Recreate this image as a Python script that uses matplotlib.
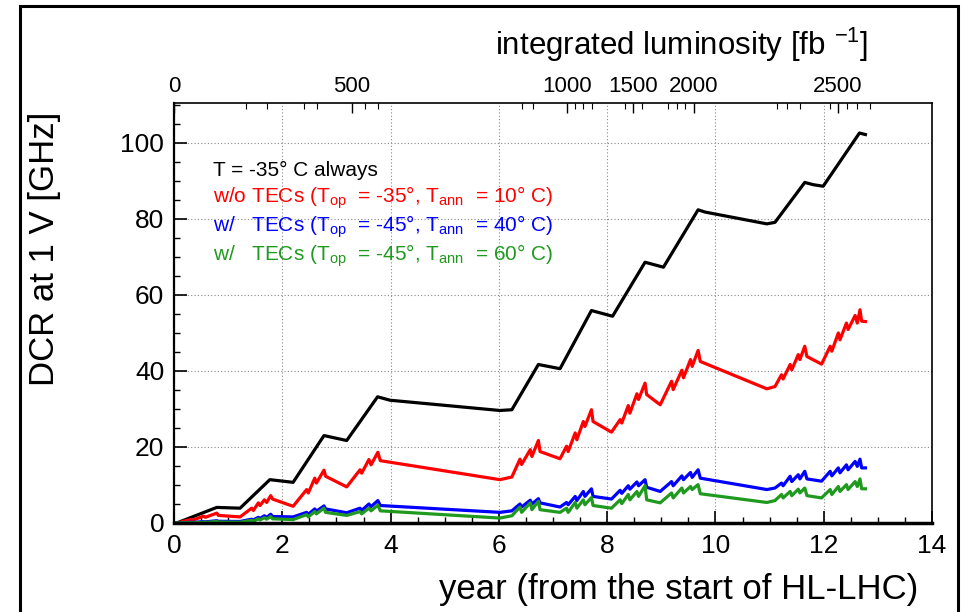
import numpy as np
import matplotlib
matplotlib.use("Agg")
import matplotlib.pyplot as plt
from matplotlib.patches import Rectangle
from matplotlib.ticker import MultipleLocator

plt.rcParams['font.family'] = ['Liberation Sans', 'DejaVu Sans']
plt.rcParams['mathtext.fontset'] = 'custom'
plt.rcParams['mathtext.rm'] = 'Liberation Sans'

# ---- DCR without annealing (T = -35 C always) ----
year_const = [0.05, 0.79, 1.22, 1.77, 2.20, 2.77, 3.19, 3.76, 3.99, 6.02, 6.24,
              6.73, 7.13, 7.71, 8.10, 8.70, 9.04, 9.68, 9.81, 10.95, 11.10,
              11.65, 11.81, 11.99, 12.66, 12.77]
dcr_const = [0.0, 4.1, 3.9, 11.4, 10.7, 23.0, 21.7, 33.2, 32.3, 29.6, 29.8,
             41.7, 40.6, 55.9, 54.4, 68.6, 67.3, 82.4, 81.8, 78.7, 79.1,
             89.6, 89.0, 88.6, 102.6, 102.2]

# ---- DCR with annealing (common time points) ----
year_ann = [0.05, 0.30, 0.33, 0.55, 0.58, 0.79, 0.82, 1.22, 1.435, 1.466,
            1.558, 1.589, 1.669, 1.712, 1.786, 1.82, 2.20, 2.45, 2.48, 2.60,
            2.63, 2.77, 2.80, 3.19, 3.436, 3.466, 3.60, 3.64, 3.765, 3.81,
            6.02, 6.24, 6.39, 6.42, 6.58, 6.61, 6.73, 6.76, 7.13, 7.25,
            7.28, 7.41, 7.44, 7.56, 7.59, 7.71, 7.74, 8.08, 8.24, 8.27,
            8.39, 8.42, 8.55, 8.58, 8.70, 8.73, 8.98, 9.19, 9.22, 9.38,
            9.41, 9.54, 9.57, 9.68, 9.72, 10.95, 11.10, 11.22, 11.25, 11.38,
            11.41, 11.53, 11.56, 11.65, 11.69, 11.96, 12.12, 12.15, 12.27, 12.30,
            12.42, 12.45, 12.58, 12.62, 12.67, 12.70, 12.77]
dcr_noTEC = [0.0, 0.9, 0.7, 1.8, 1.5, 2.6, 2.0, 1.6, 3.9, 3.3,
             5.3, 4.6, 6.1, 5.4, 7.2, 6.3, 4.4, 8.8, 7.9, 11.8,
             10.5, 13.9, 12.3, 9.5, 14.0, 13.1, 16.7, 15.3, 18.6, 16.4,
             11.4, 12.1, 16.8, 15.4, 19.3, 17.5, 21.7, 18.8, 16.9, 20.2,
             18.8, 23.7, 21.9, 26.7, 25.4, 29.8, 26.7, 23.9, 27.2, 26.3,
             30.9, 28.9, 34.0, 32.5, 36.8, 33.8, 31.1, 37.3, 35.1, 40.2,
             38.2, 43.0, 41.2, 45.4, 42.5, 35.3, 35.9, 39.0, 37.9, 41.7,
             40.3, 44.3, 43.0, 46.5, 43.8, 41.8, 46.5, 45.2, 50.0, 48.2,
             52.6, 50.9, 54.6, 52.6, 56.1, 53.1, 53.0]
dcr_TEC40 = [0.0, 0.2, 0.15, 0.35, 0.3, 0.6, 0.45, 0.4, 1.0, 0.8,
             1.5, 1.2, 1.9, 1.5, 2.3, 1.7, 1.6, 2.8, 2.3, 3.7,
             3.1, 4.5, 3.7, 2.7, 3.9, 3.3, 5.0, 4.3, 5.9, 4.6,
             2.8, 3.2, 5.0, 4.2, 6.0, 5.0, 6.4, 5.3, 4.2, 5.4,
             4.8, 7.0, 5.9, 8.3, 7.0, 9.0, 7.0, 6.3, 8.6, 7.8,
             9.8, 8.9, 10.8, 9.8, 11.4, 9.4, 8.3, 10.9, 9.8, 12.4,
             11.4, 13.3, 12.0, 14.0, 11.8, 8.8, 9.2, 10.5, 9.8, 12.3,
             10.9, 12.7, 11.6, 13.6, 11.6, 11.0, 13.6, 12.4, 14.5, 13.2,
             15.3, 14.0, 16.2, 14.9, 16.8, 14.5, 14.5]
dcr_TEC60 = [0.0, 0.1, 0.05, 0.2, 0.15, 0.4, 0.25, 0.2, 0.7, 0.5,
             1.1, 0.8, 1.4, 1.0, 1.7, 1.1, 0.9, 2.2, 1.6, 3.0,
             2.4, 3.9, 2.8, 2.0, 3.0, 2.4, 3.9, 3.2, 4.7, 3.2,
             1.3, 1.9, 4.2, 2.8, 5.3, 3.5, 5.7, 3.5, 2.8, 3.9,
             2.8, 5.4, 3.9, 6.1, 4.8, 6.7, 4.6, 3.9, 6.1, 5.1,
             7.5, 6.1, 8.3, 7.0, 9.8, 6.1, 5.3, 7.9, 6.6, 9.2,
             7.9, 9.6, 8.8, 10.1, 7.7, 5.4, 5.9, 7.5, 6.6, 8.3,
             7.2, 8.9, 7.9, 9.2, 7.2, 6.6, 8.8, 7.5, 9.6, 8.3,
             10.1, 8.8, 10.9, 9.6, 11.6, 9.0, 9.0]

# integrated luminosity [fb^-1] vs year (top axis)
lumi_major = [0, 500, 1000, 1500, 2000, 2500]
lumi_major_year = [0.0, 3.28, 7.26, 8.48, 9.60, 12.26]
lumi_minor_year = [1.33, 1.72, 2.40, 2.64, 3.52, 3.76, 6.43, 6.63,
                   7.40, 7.55, 7.72, 8.33, 8.64, 9.12, 9.29, 9.43,
                   11.14, 11.32, 11.56, 12.12, 12.43, 12.61, 12.86]

legend_lines = [
    ("T = -35° C always", "black"),
    (r"w/o TECs (T$_{\rm op}$  = -35°, T$_{\rm ann}$  = 10° C)", "red"),
    (r"w/   TECs (T$_{\rm op}$  = -45°, T$_{\rm ann}$  = 40° C)", "blue"),
    (r"w/   TECs (T$_{\rm op}$  = -45°, T$_{\rm ann}$  = 60° C)", "#1f9a1f"),
]

W, H = 964, 612
fig = plt.figure(figsize=(W / 100, H / 100), dpi=100)
ax = fig.add_axes([174 / W, 1 - 523 / H, (932 - 174) / W, (523 - 103) / H])

lw = 2.3
ax.plot(year_const, dcr_const, color="black", lw=lw)
ax.plot(year_ann, dcr_noTEC, color="red", lw=lw)
ax.plot(year_ann, dcr_TEC40, color="blue", lw=lw)
ax.plot(year_ann, dcr_TEC60, color="#1f9a1f", lw=lw)

ax.set_xlim(0, 14)
ax.set_ylim(0, 110.5)
ax.xaxis.set_major_locator(MultipleLocator(2))
ax.xaxis.set_minor_locator(MultipleLocator(0.5))
ax.yaxis.set_major_locator(MultipleLocator(20))
ax.yaxis.set_minor_locator(MultipleLocator(5))
ax.tick_params(which="both", direction="in", top=False, right=False, labelsize=19)
ax.tick_params(which="major", length=9, width=1.2)
ax.tick_params(which="minor", length=4.5, width=1.0)
ax.tick_params(axis="x", pad=8)
ax.tick_params(axis="y", pad=7)
ax.grid(True, which="major", color="#888888", linestyle=(0, (1, 2)), lw=0.8)
ax.spines["bottom"].set_linewidth(2.5)
ax.spines["left"].set_linewidth(1.6)
ax.spines["top"].set_linewidth(1.2)
ax.spines["right"].set_linewidth(1.2)

# top axis: luminosity
axt = ax.twiny()
axt.set_xlim(0, 14)
axt.set_xticks(lumi_major_year)
axt.set_xticklabels([str(v) for v in lumi_major])
axt.set_xticks(lumi_minor_year, minor=True)
axt.tick_params(which="both", direction="in", labelsize=16, pad=4)
axt.tick_params(which="major", length=7, width=1.0)
axt.tick_params(which="minor", length=4, width=0.8)
for s in axt.spines.values():
    s.set_visible(False)

# legend text
ys = [170, 198, 227, 256]
for (txt, c), yy in zip(legend_lines, ys):
    fig.text(213 / W, 1 - yy / H, txt, color=c, fontsize=15, va="center", ha="left")

fig.text(45 / W, 1 - 249 / H, "DCR at 1 V [GHz]", rotation=90, fontsize=25,
         ha="center", va="center")
fig.text(918 / W, 1 - 590 / H, "year (from the start of HL-LHC)", fontsize=25,
         ha="right", va="center")
fig.text(868 / W, 1 - 45 / H, r"integrated luminosity [fb $^{-1}$]", fontsize=22.5,
         ha="right", va="center")

# canvas frame
fig.patches.append(Rectangle((20 / W, -0.05), (958 - 20) / W, 1.05 - 6 / H,
                             transform=fig.transFigure, fill=False,
                             edgecolor="black", lw=2.2))

fig.savefig("out.png", dpi=100)
